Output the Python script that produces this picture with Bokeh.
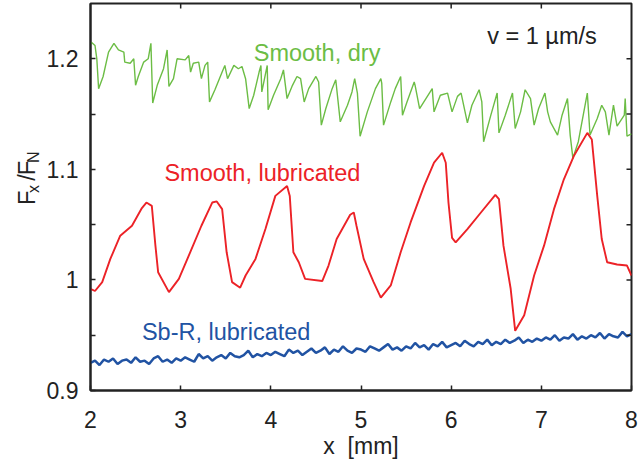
import numpy as np
from bokeh.plotting import figure
from bokeh.layouts import row
from bokeh.models import FixedTicker, Label, CustomJSTickFormatter
from bokeh.core.properties import value
from bokeh.embed import file_html
from bokeh.resources import INLINE

# ---------------- data ----------------
x_ticks = [2, 3, 4, 5, 6, 7, 8]
y_ticks = [0.9, 1.0, 1.1, 1.2]
y_minor = [0.95, 1.05, 1.15]
y_all_ticks = [0.95, 1.0, 1.05, 1.1, 1.15, 1.2]
x_inner_ticks = [3, 4, 5, 6, 7]

green_x = [2.00, 2.01, 2.05, 2.07, 2.09, 2.14, 2.20, 2.26, 2.31, 2.37,
           2.38, 2.44, 2.48, 2.50, 2.53, 2.59, 2.64, 2.67, 2.69, 2.74,
           2.81, 2.85, 2.87, 2.92, 2.96, 3.05, 3.09, 3.11, 3.14, 3.20,
           3.23, 3.27, 3.30, 3.32, 3.38, 3.46, 3.49, 3.52, 3.59, 3.64,
           3.68, 3.72, 3.76, 3.81, 3.87, 3.89, 3.90, 3.96, 3.97, 4.03,
           4.11, 4.14, 4.18, 4.24, 4.29, 4.33, 4.37, 4.42, 4.50, 4.53,
           4.56, 4.61, 4.68, 4.72, 4.77, 4.85, 4.90, 4.93, 4.96, 4.99,
           5.07, 5.16, 5.22, 5.23, 5.25, 5.33, 5.38, 5.44, 5.46, 5.51,
           5.59, 5.60, 5.65, 5.72, 5.79, 5.81, 5.88, 5.96, 6.01, 6.07,
           6.11, 6.18, 6.23, 6.31, 6.34, 6.36, 6.44, 6.51, 6.53, 6.60,
           6.68, 6.71, 6.77, 6.82, 6.88, 6.92, 6.97, 7.04, 7.07, 7.10,
           7.18, 7.23, 7.29, 7.32, 7.35, 7.41, 7.51, 7.54, 7.62, 7.67,
           7.71, 7.75, 7.80, 7.84, 7.92, 7.93, 7.95, 8.00]
green_y = [1.213, 1.215, 1.212, 1.200, 1.173, 1.184, 1.206, 1.214, 1.208, 1.206,
           1.197, 1.196, 1.200, 1.176, 1.184, 1.197, 1.200, 1.214, 1.160, 1.176,
           1.191, 1.208, 1.175, 1.182, 1.200, 1.199, 1.203, 1.188, 1.196, 1.197,
           1.182, 1.194, 1.197, 1.161, 1.172, 1.188, 1.194, 1.182, 1.194, 1.191,
           1.193, 1.182, 1.155, 1.167, 1.188, 1.194, 1.170, 1.194, 1.154, 1.167,
           1.182, 1.190, 1.164, 1.176, 1.184, 1.182, 1.161, 1.173, 1.184, 1.179,
           1.140, 1.155, 1.173, 1.181, 1.143, 1.158, 1.170, 1.182, 1.169, 1.130,
           1.152, 1.173, 1.182, 1.178, 1.140, 1.161, 1.173, 1.184, 1.149, 1.161,
           1.179, 1.176, 1.155, 1.164, 1.173, 1.152, 1.167, 1.169, 1.152, 1.166,
           1.169, 1.142, 1.158, 1.172, 1.161, 1.125, 1.149, 1.169, 1.133, 1.149,
           1.169, 1.137, 1.152, 1.172, 1.164, 1.140, 1.155, 1.169, 1.152, 1.143,
           1.131, 1.149, 1.164, 1.131, 1.110, 1.125, 1.169, 1.131, 1.146, 1.158,
           1.152, 1.131, 1.158, 1.139, 1.149, 1.164, 1.130, 1.132]

red_x = [2.00, 2.05, 2.13, 2.22, 2.33, 2.46, 2.57, 2.62, 2.68, 2.72,
         2.75, 2.87, 2.98, 3.09, 3.23, 3.35, 3.40, 3.46, 3.51, 3.57,
         3.66, 3.72, 3.83, 3.94, 4.05, 4.18, 4.21, 4.25, 4.31, 4.38,
         4.57, 4.64, 4.73, 4.88, 4.92, 4.95, 5.03, 5.14, 5.22, 5.33,
         5.44, 5.55, 5.70, 5.81, 5.90, 5.94, 5.97, 6.01, 6.05, 6.18,
         6.33, 6.49, 6.53, 6.58, 6.66, 6.71, 6.81, 6.92, 7.03, 7.14,
         7.25, 7.36, 7.51, 7.56, 7.62, 7.67, 7.73, 7.84, 7.95, 8.00]
red_y = [0.992, 0.990, 0.998, 1.019, 1.040, 1.049, 1.065, 1.070, 1.067, 1.031,
         1.007, 0.989, 1.001, 1.022, 1.049, 1.070, 1.071, 1.064, 1.025, 0.998,
         0.993, 1.004, 1.019, 1.046, 1.076, 1.085, 1.076, 1.025, 1.016, 1.001,
         0.999, 1.013, 1.037, 1.059, 1.061, 1.049, 1.019, 0.998, 0.984, 0.995,
         1.025, 1.052, 1.085, 1.106, 1.115, 1.106, 1.070, 1.038, 1.034, 1.046,
         1.061, 1.077, 1.073, 1.031, 0.992, 0.954, 0.968, 1.004, 1.031, 1.064,
         1.091, 1.112, 1.133, 1.127, 1.076, 1.037, 1.016, 1.014, 1.013, 1.004]

blue_x = list(np.round(np.linspace(2.0, 8.0, 121), 2))
blue_y = [0.925, 0.927, 0.923, 0.928, 0.926, 0.929, 0.924, 0.927, 0.928, 0.925,
          0.930, 0.926, 0.927, 0.924, 0.929, 0.931, 0.926, 0.928, 0.925, 0.929,
          0.927, 0.930, 0.928, 0.926, 0.933, 0.929, 0.931, 0.927, 0.930, 0.932,
          0.929, 0.934, 0.931, 0.930, 0.932, 0.936, 0.930, 0.933, 0.931, 0.934,
          0.932, 0.935, 0.933, 0.931, 0.937, 0.934, 0.936, 0.932, 0.935, 0.938,
          0.934, 0.936, 0.939, 0.933, 0.937, 0.935, 0.940, 0.936, 0.934, 0.938,
          0.937, 0.935, 0.940, 0.938, 0.936, 0.939, 0.942, 0.937, 0.939, 0.936,
          0.940, 0.938, 0.943, 0.939, 0.941, 0.937, 0.942, 0.940, 0.944, 0.939,
          0.941, 0.943, 0.940, 0.945, 0.942, 0.940, 0.944, 0.942, 0.946, 0.941,
          0.944, 0.942, 0.946, 0.943, 0.945, 0.948, 0.943, 0.946, 0.944, 0.947,
          0.945, 0.948, 0.946, 0.950, 0.945, 0.948, 0.947, 0.951, 0.946, 0.949,
          0.947, 0.950, 0.948, 0.952, 0.947, 0.951, 0.949, 0.948, 0.953, 0.949,
          0.951]

GREEN = "#6cbd45"
RED = "#ec2227"
BLUE = "#2153a3"
INK = "#222222"
FONT = "Liberation Sans"
FS = "23px"
FS_ANN = "23.5px"
W, H = 640, 461
LEFT_W = 43

# ---------------- main plot ----------------
p = figure(width=W - LEFT_W, height=H, x_range=(2, 8), y_range=(0.9, 1.25),
           output_backend="svg", toolbar_location=None,
           min_border_left=90 - LEFT_W, min_border_right=9, min_border_top=3,
           min_border_bottom=69)
p.background_fill_color = "white"
p.border_fill_color = "white"
p.grid.visible = False
p.outline_line_color = INK
p.outline_line_width = 2

p.line(green_x, green_y, line_color=GREEN, line_width=1.4)
p.line(red_x, red_y, line_color=RED, line_width=1.9)
p.line(blue_x, blue_y, line_color=BLUE, line_width=2.5)

# inward ticks on right and top edges (clipped dash markers on the frame edge)
p.scatter(x=[8] * len(y_all_ticks), y=y_all_ticks, marker="dash", size=10,
          line_color=INK, line_width=1.5)
p.scatter(x=x_inner_ticks, y=[1.25] * len(x_inner_ticks), marker="dash", size=10,
          angle=np.pi / 2, line_color=INK, line_width=1.5)


def style_axis(ax):
    ax.axis_line_color = INK
    ax.axis_line_width = 2
    ax.major_tick_in = 5
    ax.major_tick_out = 0
    ax.minor_tick_in = 5
    ax.minor_tick_out = 0
    ax.major_tick_line_color = INK
    ax.minor_tick_line_color = INK
    ax.major_tick_line_width = 1.5
    ax.minor_tick_line_width = 1.5
    ax.major_label_text_font = FONT
    ax.major_label_text_color = INK
    ax.major_label_text_font_size = FS
    ax.major_label_text_line_height = 1.0


xa = p.xaxis[0]
xa.ticker = FixedTicker(ticks=x_ticks, minor_ticks=[])
style_axis(xa)
xa.major_label_standoff = 20
xa.axis_label = "x\u00a0\u00a0[mm]"
xa.axis_label_text_font = FONT
xa.axis_label_text_font_size = FS
xa.axis_label_text_font_style = "normal"
xa.axis_label_text_color = INK
xa.axis_label_text_line_height = 1.0
xa.axis_label_standoff = 2

ya = p.yaxis[0]
ya.ticker = FixedTicker(ticks=y_ticks, minor_ticks=y_minor)
ya.formatter = CustomJSTickFormatter(code="return String(Math.round(tick*10)/10);")
style_axis(ya)
ya.major_label_standoff = 12


def add_label(x, y, text, color):
    p.add_layout(Label(x=x, y=y, text=text, text_color=color, text_font=FONT,
                       text_font_size=FS_ANN, text_align="left",
                       text_baseline="alphabetic"))


add_label(3.81, 1.205, "Smooth, dry", GREEN)
add_label(2.82, 1.097, "Smooth, lubricated", RED)
add_label(2.57, 0.953, "Sb-R, lubricated", BLUE)
add_label(6.40, 1.221, "v = 1 \u00b5m/s", INK)

# ---------------- left strip with the rotated y-axis label F_x /F_N ----------------
q = figure(width=LEFT_W, height=H, x_range=(0, LEFT_W), y_range=(0, H),
           output_backend="svg", toolbar_location=None,
           x_axis_location=None, y_axis_location=None,
           min_border_left=0, min_border_right=0, min_border_top=0, min_border_bottom=0)
q.outline_line_color = None
q.grid.visible = False
q.background_fill_color = "white"
q.border_fill_color = "white"

ang = np.pi / 2


def ylab_piece(x, y, text, size):
    q.text(x=[x], y=[y], text=[text], angle=ang, text_font=value(FONT),
           text_font_size=size, text_color=INK, text_align="left",
           text_baseline="alphabetic")


ylab_piece(26, 221, "F", FS_ANN)
ylab_piece(33, 235.4, "x", "16px")
ylab_piece(26, 250, "/", FS_ANN)
ylab_piece(26, 256.5, "F", FS_ANN)
ylab_piece(33, 271, "N", "16px")

layout = row(q, p)
open("out.html", "w").write(file_html(layout, INLINE))
